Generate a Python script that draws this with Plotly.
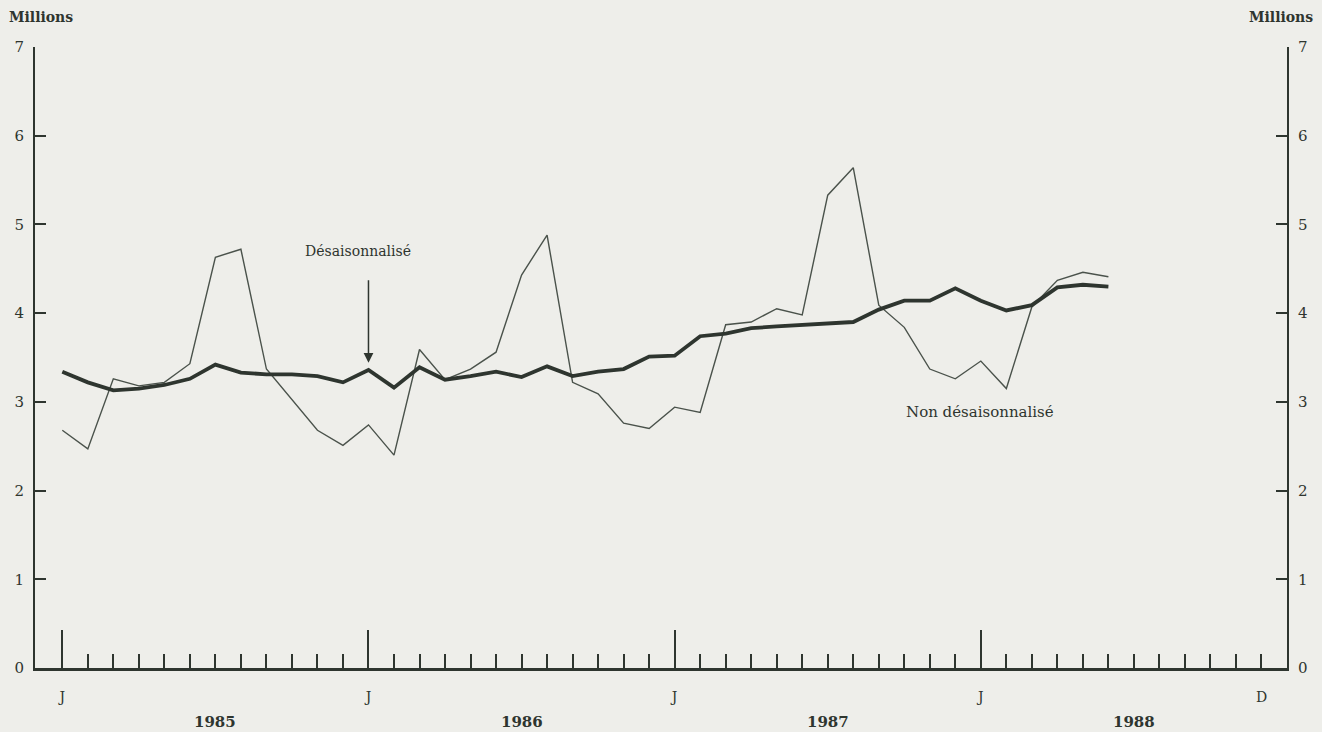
import plotly.graph_objects as go

# Month index 0 = January 1985
months = list(range(42))
desaisonnalise = [3.34, 3.22, 3.13, 3.15, 3.19, 3.26, 3.42, 3.33, 3.31, 3.31, 3.29, 3.22,
                  3.36, 3.16, 3.39, 3.25, 3.29, 3.34, 3.28, 3.40, 3.29, 3.34, 3.37, 3.51,
                  3.52, 3.74, 3.77, 3.83, 3.85, 3.87, 3.88, 3.90, 4.04, 4.14, 4.14, 4.28,
                  4.14, 4.03, 4.09, 4.29, 4.32, 4.30]
non_desaisonnalise = [2.68, 2.47, 3.26, 3.18, 3.22, 3.43, 4.63, 4.72, 3.37, 3.02, 2.68, 2.51,
                      2.74, 2.40, 3.59, 3.25, 3.37, 3.56, 4.43, 4.88, 3.22, 3.09, 2.76, 2.70,
                      2.94, 2.88, 3.87, 3.90, 4.05, 3.98, 5.33, 5.64, 4.09, 3.84, 3.37, 3.26,
                      3.46, 3.15, 4.07, 4.37, 4.46, 4.41]
year_labels = ["1985", "1986", "1987", "1988"]
year_pos = [6, 18, 30, 42]
jan_ticks = [0, 12, 24, 36]
y_ticks = [0, 1, 2, 3, 4, 5, 6, 7]

BG = "#eeeeea"
INK = "#2e352f"
FONT = "DejaVu Serif"

fig = go.Figure()
fig.add_trace(go.Scatter(x=months, y=non_desaisonnalise, mode="lines",
                         line=dict(color="#4a524b", width=1.4), showlegend=False))
fig.add_trace(go.Scatter(x=months, y=desaisonnalise, mode="lines",
                         line=dict(color=INK, width=3.8), showlegend=False))
fig.add_trace(go.Scatter(x=[0], y=[None], yaxis="y2", showlegend=False))

fig.update_layout(
    width=1322, height=732,
    paper_bgcolor=BG, plot_bgcolor=BG,
    margin=dict(l=35, r=35, t=47, b=64),
    font=dict(family=FONT, color=INK, size=14),
    xaxis=dict(range=[-1.07, 48.0], showgrid=False, zeroline=False,
               showline=True, linecolor=INK, linewidth=3,
               tickvals=jan_ticks, ticktext=["J"] * 4,
               ticks="inside", ticklen=38, tickwidth=1.5, tickcolor=INK,
               ticklabelstandoff=14, tickfont=dict(size=14, family=FONT),
               minor=dict(tickvals=list(range(48)), ticks="inside", ticklen=14,
                          tickwidth=1.5, tickcolor=INK, showgrid=False)),
    yaxis=dict(range=[0, 7], showgrid=False, zeroline=False,
               showline=True, linecolor=INK, linewidth=1.8,
               tickvals=y_ticks, ticks="inside", ticklen=11, tickwidth=1.8,
               tickcolor=INK, ticklabelstandoff=6, tickfont=dict(size=15, family=FONT)),
    yaxis2=dict(range=[0, 7], overlaying="y", side="right", showgrid=False,
                zeroline=False, showline=True, linecolor=INK, linewidth=1.8,
                tickvals=y_ticks, ticks="inside", ticklen=11, tickwidth=1.8,
                tickcolor=INK, ticklabelstandoff=6, tickfont=dict(size=15, family=FONT)),
)

ann = []
ann.append(dict(text="<b>Millions</b>", xref="paper", yref="paper", x=-0.022, y=1.048,
                xanchor="left", yanchor="middle", showarrow=False, font=dict(size=14)))
ann.append(dict(text="<b>Millions</b>", xref="paper", yref="paper", x=1.0224, y=1.048,
                xanchor="right", yanchor="middle", showarrow=False, font=dict(size=14)))
for lab, pos in zip(year_labels, year_pos):
    ann.append(dict(text="<b>" + lab + "</b>", xref="x", yref="paper", x=pos, y=-0.087,
                    xanchor="center", yanchor="middle", showarrow=False, font=dict(size=15)))
ann.append(dict(text="D", xref="x", yref="paper", x=47, y=-0.047,
                xanchor="center", yanchor="middle", showarrow=False, font=dict(size=14)))
ann.append(dict(text="Désaisonnalisé", xref="x", yref="y", x=11.6, y=4.7,
                xanchor="center", yanchor="middle", showarrow=False, font=dict(size=14)))
ann.append(dict(text="", xref="x", yref="y", x=12, y=desaisonnalise[12] + 0.08,
                ax=0, ay=-84, showarrow=True, arrowhead=2, arrowsize=1.3,
                arrowwidth=1.5, arrowcolor=INK))
ann.append(dict(text="Non désaisonnalisé", xref="x", yref="y", x=33.0, y=2.89,
                xanchor="left", yanchor="middle", showarrow=False, font=dict(size=15)))
fig.update_layout(annotations=ann)

fig.write_html("out.html",
               config={"displayModeBar": False},
               post_script="document.body.style.margin='0';document.body.style.background='" + BG + "';")
